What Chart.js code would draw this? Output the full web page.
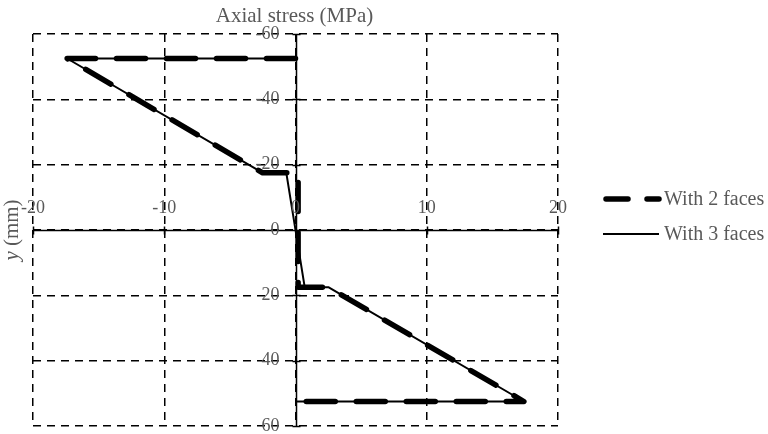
<!DOCTYPE html>
<html>
<head>
<meta charset="utf-8">
<script src="https://cdn.jsdelivr.net/npm/chart.js@4"></script>
<style>
html,body{margin:0;padding:0;background:#fff;}
#wrap{width:768px;height:434px;position:relative;}
</style>
</head>
<body>
<div id="wrap"><canvas id="c" width="768" height="434"></canvas></div>
<script>
const xTicks = [-20, -10, 0, 10, 20];
const yTicks = [-60, -40, -20, 0, 20, 40, 60];
const seriesNames = ['With 2 faces', 'With 3 faces'];
const twoFacesX = [0, -17.4, -2.5, 0.2, 0.2, 2.5, 17.4, 0];
const twoFacesY = [-52.5, -52.5, -17.5, -17.5, 17.5, 17.5, 52.5, 52.5];
const threeFacesX = [0, -17.4, -2.5, -0.7, 0.7, 2.5, 17.4, 0];
const threeFacesY = [-52.5, -52.5, -17.5, -17.5, 17.5, 17.5, 52.5, 52.5];
const xTitle = 'Axial stress (MPa)';
const yTitleItalic = 'y';
const yTitleRest = ' (mm)';

const toPts = (xs, ys) => xs.map((x, i) => ({x: x, y: ys[i]}));
const GRAY = '#595959';
const SERIF = '"Liberation Serif", "DejaVu Serif", serif';

const overlay = {
  id: 'overlay',
  beforeDatasetsDraw(chart) {
    const {ctx, chartArea: a, scales: {x, y}} = chart;
    const x0 = Math.round(x.getPixelForValue(0)) + 0.5;
    const y0 = Math.round(y.getPixelForValue(0)) + 0.5;
    ctx.save();
    ctx.strokeStyle = '#000';
    ctx.lineWidth = 1.5;
    ctx.setLineDash([]);
    ctx.beginPath();
    ctx.moveTo(a.left, y0); ctx.lineTo(a.right, y0);
    ctx.moveTo(x0, a.top); ctx.lineTo(x0, a.bottom);
    xTicks.forEach(v => { const px = Math.round(x.getPixelForValue(v)) + 0.5; ctx.moveTo(px, y0 - 4); ctx.lineTo(px, y0 + 4); });
    yTicks.forEach(v => { const py = Math.round(y.getPixelForValue(v)) + 0.5; ctx.moveTo(x0 - 4, py); ctx.lineTo(x0 + 4, py); });
    ctx.stroke();
    ctx.restore();
  },
  afterDraw(chart) {
    const {ctx, chartArea: a, scales: {x, y}} = chart;
    const x0 = x.getPixelForValue(0);
    const y0 = y.getPixelForValue(0);
    ctx.save();
    ctx.fillStyle = GRAY;
    ctx.font = '18px ' + SERIF;
    ctx.textAlign = 'center';
    ctx.textBaseline = 'middle';
    xTicks.forEach(v => ctx.fillText(String(v), x.getPixelForValue(v), y0 - 22));
    ctx.textAlign = 'right';
    yTicks.forEach(v => ctx.fillText(String(v), x0 - 16, y.getPixelForValue(v)));
    ctx.font = '21px ' + SERIF;
    ctx.textAlign = 'center';
    ctx.fillText(xTitle, (a.left + a.right) / 2 - 1, 16);
    ctx.save();
    ctx.translate(12, y0);
    ctx.rotate(-Math.PI / 2);
    ctx.font = 'italic 21px ' + SERIF;
    const w1 = ctx.measureText(yTitleItalic).width;
    ctx.font = '21px ' + SERIF;
    const w2 = ctx.measureText(yTitleRest).width;
    const start = -(w1 + w2) / 2;
    ctx.textAlign = 'left';
    ctx.font = 'italic 21px ' + SERIF;
    ctx.fillText(yTitleItalic, start, 0);
    ctx.font = '21px ' + SERIF;
    ctx.fillText(yTitleRest, start + w1, 0);
    ctx.restore();
    const ds = chart.data.datasets;
    const rows = [199, 234];
    ds.forEach((d, i) => {
      ctx.save();
      ctx.strokeStyle = '#000';
      ctx.lineWidth = d.borderWidth;
      ctx.lineCap = d.borderCapStyle || 'butt';
      ctx.setLineDash(i === 0 ? [22, 19] : []);
      ctx.beginPath();
      ctx.moveTo(i === 0 ? 606 : 603, rows[i]);
      ctx.lineTo(659, rows[i]);
      ctx.stroke();
      ctx.restore();
      ctx.fillStyle = GRAY;
      ctx.font = '20px ' + SERIF;
      ctx.textAlign = 'left';
      ctx.textBaseline = 'middle';
      ctx.fillText(d.label, 664, rows[i] + 1);
    });
    ctx.restore();
  }
};

new Chart(document.getElementById('c'), {
  type: 'scatter',
  data: {
    datasets: [
      {
        label: seriesNames[0],
        data: toPts(twoFacesX, twoFacesY),
        showLine: true,
        borderColor: '#000',
        backgroundColor: '#000',
        borderWidth: 5.5,
        borderDash: [29, 21],
        borderCapStyle: 'round',
        borderJoinStyle: 'round',
        pointRadius: 0,
        tension: 0
      },
      {
        label: seriesNames[1],
        data: toPts(threeFacesX, threeFacesY),
        showLine: true,
        borderColor: '#000',
        backgroundColor: '#000',
        borderWidth: 2,
        borderJoinStyle: 'round',
        pointRadius: 0,
        tension: 0
      }
    ]
  },
  options: {
    responsive: false,
    animation: false,
    layout: {padding: {left: 33, top: 34, right: 210, bottom: 8}},
    plugins: {legend: {display: false}, tooltip: {enabled: false}},
    scales: {
      x: {
        type: 'linear', min: -20, max: 20,
        ticks: {display: false, stepSize: 10},
        grid: {color: '#000', lineWidth: 1.5, drawTicks: false, tickLength: 0},
        border: {display: false, dash: [8, 6]}
      },
      y: {
        type: 'linear', min: -60, max: 60, reverse: true,
        ticks: {display: false, stepSize: 20},
        grid: {color: '#000', lineWidth: 1.5, drawTicks: false, tickLength: 0},
        border: {display: false, dash: [8, 6]}
      }
    }
  },
  plugins: [overlay]
});
</script>
</body>
</html>
